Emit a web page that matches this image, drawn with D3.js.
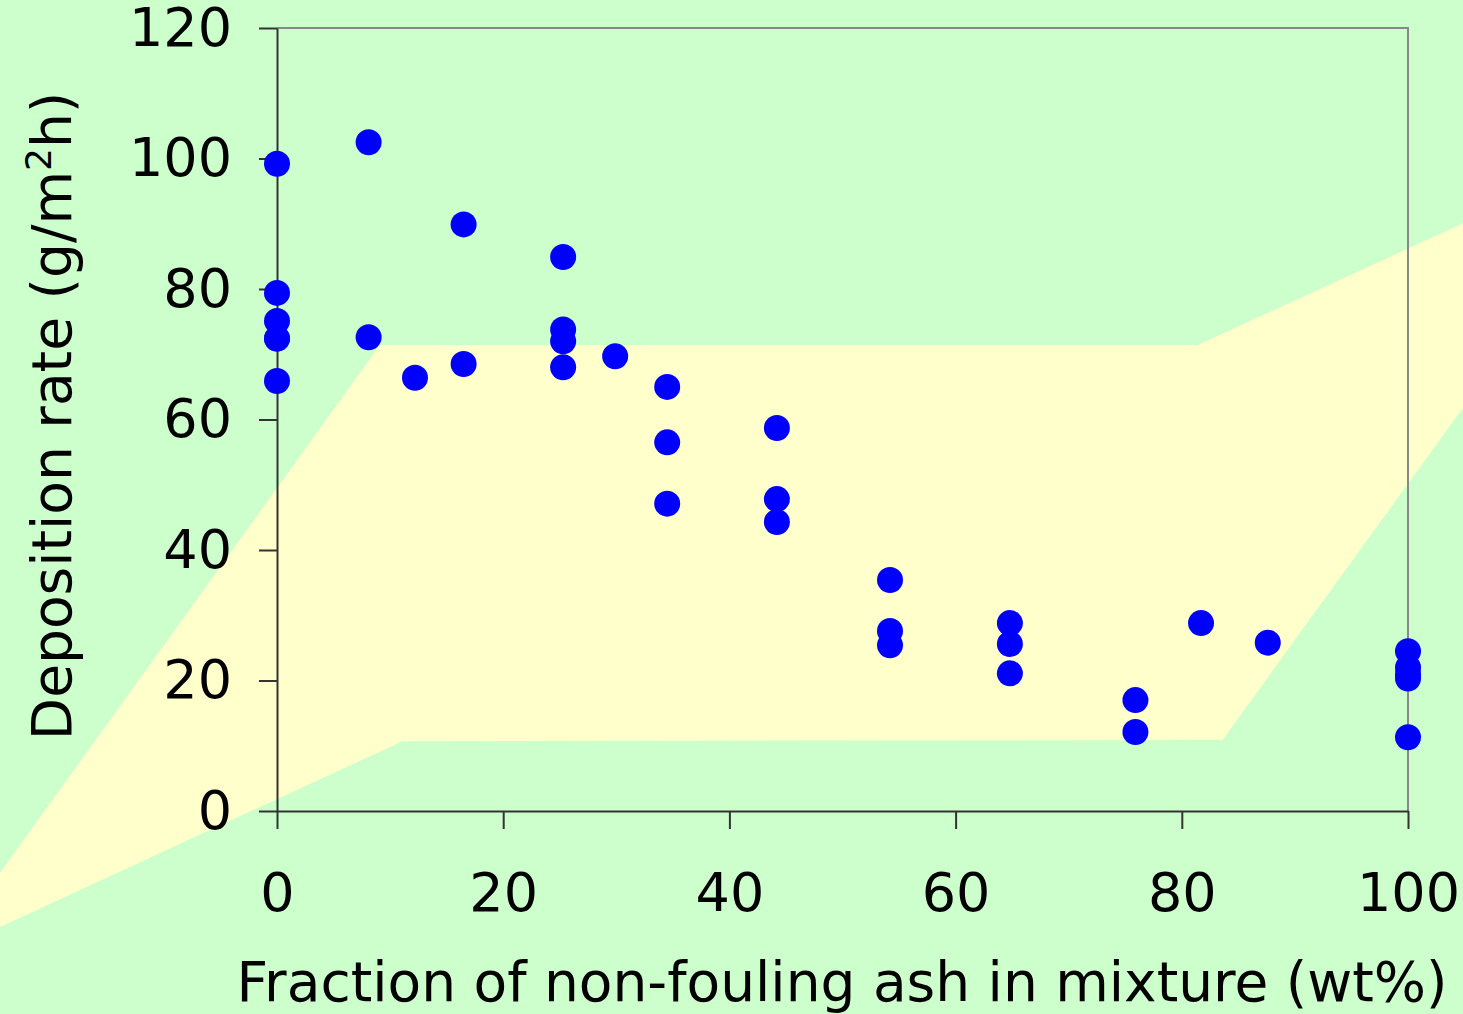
<!DOCTYPE html>
<html>
<head>
<meta charset="utf-8">
<script src="https://cdn.jsdelivr.net/npm/d3@7"></script>
<style>
  body { margin: 0; background: #ccffcc; }
  svg { display: block; font-family: "DejaVu Sans", Verdana, sans-serif; }
</style>
</head>
<body>
<svg id="chart"></svg>
<script>
// fraction of non-fouling ash (wt%)
var fraction = [0, 0, 0, 0, 0, 0,
  8.1, 8.1, 12.2, 16.5, 16.5,
  25.3, 25.3, 25.3, 25.3, 29.9,
  34.5, 34.5, 34.5, 44.2, 44.2, 44.2,
  54.2, 54.2, 54.2, 64.8, 64.8, 64.8,
  75.9, 75.9, 81.7, 87.6,
  100, 100, 100, 100, 100];
// deposition rate (g/m2h)
var deposition = [99.2, 79.4, 75.1, 72.4, 65.9, 72.4,
  102.5, 72.6, 66.4, 89.9, 68.5,
  84.9, 73.8, 72.0, 68.0, 69.7,
  65.0, 56.5, 47.1, 58.7, 47.8, 44.3,
  35.4, 27.6, 25.4, 28.8, 25.6, 21.1,
  17.0, 12.1, 28.8, 25.8,
  24.5, 22.0, 21.0, 20.3, 11.3];

var xTicks = [0, 20, 40, 60, 80, 100];
var yTicks = [0, 20, 40, 60, 80, 100, 120];

// yellow band behind the points, in data units
var bandX = [-24.5, 9.1, 81.4, 104.9, 104.9, 83.6, 11.1, -24.5];
var bandY = [-9.5, 71.4, 71.4, 90.1, 61.9, 10.9, 10.7, -17.8];

var width = 1463, height = 1014;
var margin = {left: 277, right: 55, top: 28, bottom: 203};

var svg = d3.select("#chart")
  .attr("width", width)
  .attr("height", height);

var x = d3.scaleLinear().domain([0, 100]).range([margin.left, width - margin.right]);
var y = d3.scaleLinear().domain([0, 120]).range([height - margin.bottom, margin.top]);

svg.append("rect")
  .attr("width", width).attr("height", height)
  .attr("fill", "#ccffcc");

var band = bandX.map(function(d, i) { return [x(d), y(bandY[i])]; });
svg.append("path")
  .attr("d", d3.line()(band) + "Z")
  .attr("fill", "#ffffcc");

// plot frame: top and right edges
svg.append("path")
  .attr("d", "M" + x(0) + "," + y(120) + "H" + x(100) + "V" + y(0))
  .attr("fill", "none")
  .attr("stroke", "#888888")
  .attr("stroke-width", 2);

var yAxis = svg.append("g")
  .attr("transform", "translate(" + x(0) + ",0)")
  .call(d3.axisLeft(y).tickValues(yTicks).tickSize(18).tickSizeOuter(0).tickPadding(27));

var xAxis = svg.append("g")
  .attr("transform", "translate(0," + y(0) + ")")
  .call(d3.axisBottom(x).tickValues(xTicks).tickSize(18).tickSizeOuter(0).tickPadding(44));

[xAxis, yAxis].forEach(function(a) {
  a.select(".domain").attr("stroke", "#333333").attr("stroke-width", 2);
  a.selectAll(".tick line").attr("stroke", "#333333").attr("stroke-width", 2);
  a.selectAll(".tick text")
    .attr("fill", "#000")
    .style("font-size", "54px")
    .style("font-family", "DejaVu Sans, Verdana, sans-serif");
});

svg.append("g")
  .selectAll("circle")
  .data(fraction)
  .join("circle")
  .attr("cx", function(d) { return x(d); })
  .attr("cy", function(d, i) { return y(deposition[i]); })
  .attr("r", 13)
  .attr("fill", "#0000ff");

svg.append("text")
  .attr("x", 842)
  .attr("y", 1001)
  .attr("text-anchor", "middle")
  .style("font-size", "55px")
  .text("Fraction of non-fouling ash in mixture (wt%)");

var yl = svg.append("text")
  .attr("transform", "translate(71,416) rotate(-90)")
  .attr("text-anchor", "middle")
  .style("font-size", "55px");
yl.append("tspan").text("Deposition rate (g/m");
yl.append("tspan").attr("dy", -20).style("font-size", "36px").text("2");
yl.append("tspan").attr("dy", 20).text("h)");
</script>
</body>
</html>
